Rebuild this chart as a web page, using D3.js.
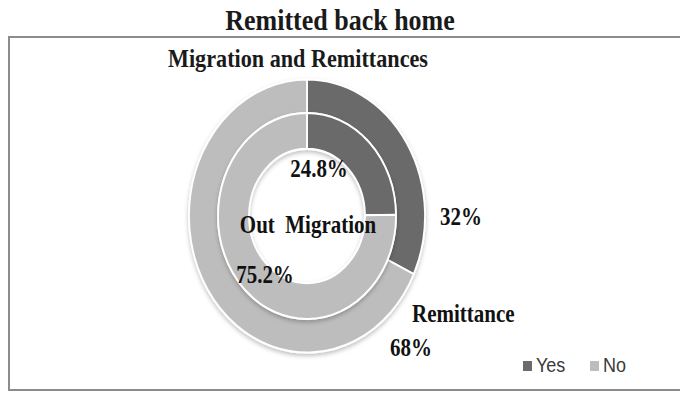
<!DOCTYPE html>
<meta charset="utf-8">
<style>
body { margin: 0; background: #fff; }
.ttl { font: bold 26px "Liberation Serif", "Times New Roman", serif; fill: #1a1a1a; }
.lbl { font: bold 21px "Liberation Serif", "Times New Roman", serif; fill: #111; white-space: pre; }
.leg { font: 18px "Liberation Sans", Arial, sans-serif; fill: #3a3a3a; }
</style>
<body>
<script src="https://d3js.org/d3.v7.min.js"></script>
<script>
const categories = ["Yes", "No"];
const outMigration = [24.8, 75.2];   // inner ring
const remittance = [32, 68];         // outer ring
const colors = ["#6b6b6b", "#bdbdbd"];

const width = 680, height = 393,
      cx = 307, cy = 216, sy = 1.157;   // picture is stretched vertically

const svg = d3.select("body").append("svg")
    .attr("width", width)
    .attr("height", height);

const defs = svg.append("defs");
defs.append("filter").attr("id", "shadow")
    .attr("x", "-10%").attr("y", "-10%").attr("width", "120%").attr("height", "125%")
  .append("feDropShadow")
    .attr("dx", 0).attr("dy", 2).attr("stdDeviation", 2)
    .attr("flood-color", "#000").attr("flood-opacity", 0.25);

// frame
svg.append("rect")
    .attr("x", 9).attr("y", 37)
    .attr("width", 690).attr("height", 353)
    .attr("fill", "none")
    .attr("stroke", "#8c8c8c")
    .attr("stroke-width", 2);

function txt(cls, x, y, s, anchor, len) {
  const t = svg.append("text")
      .attr("class", cls)
      .attr("transform", `translate(${x},${y}) scale(1,${sy})`)
      .attr("text-anchor", anchor || "start")
      .text(s);
  if (len) t.attr("textLength", len).attr("lengthAdjust", "spacingAndGlyphs");
  return t;
}

txt("ttl", 340, 30, "Remitted back home", "middle");
txt("ttl", 298, 67, "Migration and Remittances", "middle", 260).style("font-size", "21px");

const pie = d3.pie().sort(null).value(d => d);
const color = d3.scaleOrdinal().domain(categories).range(colors);

const g = svg.append("g")
    .attr("transform", `translate(${cx},${cy}) scale(1,${sy})`);

const rings = [
  {data: remittance, inner: 89, outer: 118},
  {data: outMigration, inner: 58, outer: 89}
];

rings.forEach(r => {
  const arc = d3.arc().innerRadius(r.inner).outerRadius(r.outer);
  g.append("g")
      .attr("filter", "url(#shadow)")
    .selectAll("path")
    .data(pie(r.data))
    .join("path")
      .attr("d", arc)
      .attr("fill", (d, i) => color(categories[i]))
      .attr("stroke", "#fff")
      .attr("stroke-width", 1.8);
});

// labels
txt("lbl", 319, 177, outMigration[0] + "%", "middle");
txt("lbl", 265, 283, outMigration[1] + "%", "middle");
txt("lbl", 308, 233, "Out  Migration", "middle");
txt("lbl", 440, 225, remittance[0] + "%");
txt("lbl", 412, 322, "Remittance");
txt("lbl", 390, 356, remittance[1] + "%");

// legend
const leg = svg.append("g").selectAll("g")
    .data(categories)
    .join("g")
      .attr("transform", (d, i) => `translate(${523 + i * 67},361)`);
leg.append("rect")
    .attr("width", 9).attr("height", 10)
    .attr("fill", d => color(d));
leg.append("text")
    .attr("class", "leg")
    .attr("transform", `translate(13,11) scale(1,${sy})`)
    .text(d => d);
</script>
</body>
